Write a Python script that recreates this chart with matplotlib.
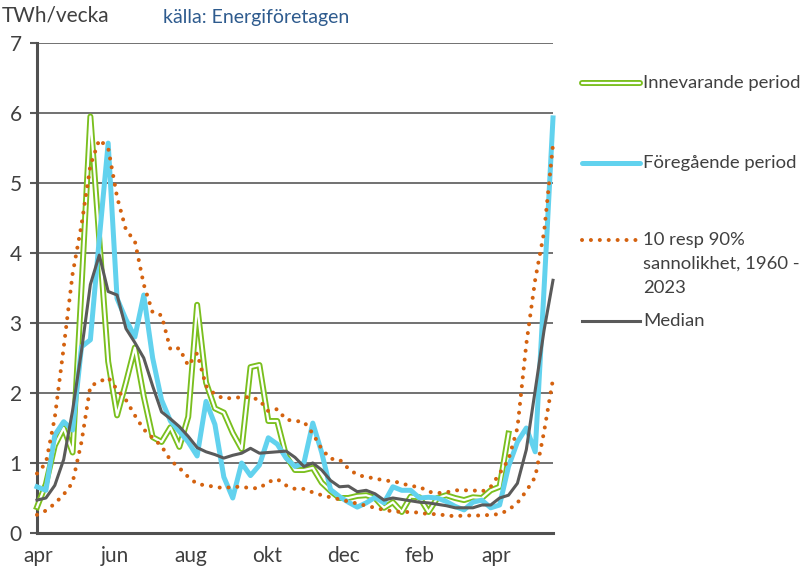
import numpy as np
import matplotlib.pyplot as plt
from matplotlib.lines import Line2D

plt.rcParams['font.family'] = ['Lato', 'DejaVu Sans']

# veckovärden, TWh/vecka, från v.14 (april) till maj nästa år
month_labels = ['apr', 'jun', 'aug', 'okt', 'dec', 'feb', 'apr']

innevarande = [0.37, 0.7, 1.25, 1.5, 1.15, 3.5, 5.95, 4.2, 2.45, 1.68,
               2.15, 2.65, 1.95, 1.37, 1.3, 1.51, 1.23, 1.66, 3.26, 2.15,
               1.78, 1.72, 1.43, 1.2, 2.37, 2.4, 1.6, 1.6, 1.1, 0.9,
               0.9, 0.93, 0.72, 0.6, 0.5, 0.5, 0.53, 0.54, 0.5, 0.36,
               0.44, 0.3, 0.52, 0.51, 0.3, 0.5, 0.54, 0.5, 0.47, 0.51,
               0.5, 0.61, 0.66, 1.42]

foregaende = [0.66, 0.61, 1.4, 1.59, 1.47, 2.66, 2.76, 4.2, 5.57, 3.35,
              3.05, 2.8, 3.4, 2.5, 1.9, 1.6, 1.45, 1.3, 1.1, 1.88,
              1.55, 0.8, 0.5, 1.0, 0.82, 0.97, 1.36, 1.27, 1.07, 0.95,
              1.0, 1.57, 1.15, 0.62, 0.52, 0.44, 0.37, 0.43, 0.51, 0.43,
              0.66, 0.61, 0.61, 0.5, 0.51, 0.5, 0.45, 0.38, 0.33, 0.44,
              0.47, 0.36, 0.4, 0.95, 1.3, 1.5, 1.16, 3.5, 5.93]

p90 = [0.85, 1.0, 1.65, 2.65, 3.7, 4.4, 5.25, 5.62, 5.5, 4.8,
       4.33, 4.17, 3.55, 3.15, 3.11, 2.62, 2.64, 2.39, 2.57, 2.1,
       1.98, 1.92, 1.93, 1.94, 1.94, 1.9, 1.74, 1.77, 1.62, 1.6,
       1.59, 1.42, 1.2, 1.06, 1.05, 0.92, 0.83, 0.8, 0.78, 0.75,
       0.74, 0.71, 0.67, 0.66, 0.59, 0.57, 0.58, 0.61, 0.61, 0.61,
       0.59, 0.66, 0.85, 1.05, 1.5, 2.7, 3.62, 4.3, 5.55]

p10 = [0.26, 0.32, 0.42, 0.55, 0.72, 1.3, 2.1, 2.16, 2.22, 2.05,
       1.9, 1.68, 1.48, 1.36, 1.24, 1.04, 0.93, 0.8, 0.7, 0.68,
       0.66, 0.64, 0.66, 0.66, 0.64, 0.64, 0.73, 0.77, 0.68, 0.63,
       0.63, 0.58, 0.54, 0.51, 0.48, 0.45, 0.42, 0.39, 0.36, 0.33,
       0.31, 0.3, 0.3, 0.29, 0.27, 0.27, 0.25, 0.24, 0.25, 0.25,
       0.25, 0.26, 0.27, 0.33, 0.43, 0.6, 0.8, 1.45, 2.2]

median = [0.47, 0.5, 0.68, 1.05, 1.75, 2.6, 3.55, 3.97, 3.45, 3.4,
          2.92, 2.72, 2.5, 2.1, 1.73, 1.63, 1.52, 1.38, 1.22, 1.16,
          1.12, 1.07, 1.11, 1.14, 1.21, 1.14, 1.15, 1.16, 1.17, 1.08,
          0.95, 1.0, 0.9, 0.75, 0.66, 0.67, 0.59, 0.61, 0.56, 0.47,
          0.5, 0.48, 0.46, 0.44, 0.43, 0.41, 0.39, 0.36, 0.36, 0.36,
          0.4, 0.4, 0.5, 0.54, 0.71, 1.19, 2.04, 2.9, 3.61]

weeks = np.arange(len(median))

txt = '#404040'
gridc = '#595959'
green = '#7ABF1E'
blue = '#62D2EE'
orange = '#D4620F'
grey = '#5A5A5A'
dots = (0, (0.01, 2.2))

W, H = 812, 572
fig = plt.figure(figsize=(W / 100, H / 100), dpi=100)
ax = fig.add_axes([37 / W, 1 - 533 / H, (553 - 37) / W, (533 - 43) / H])

x_cur = weeks[:len(innevarande)]
ax.plot(x_cur, innevarande, color=green, lw=4.3, zorder=3, clip_on=False)
ax.plot(x_cur, innevarande, color='white', lw=1.6, zorder=3.1, clip_on=False)
ax.plot(weeks, foregaende, color=blue, lw=3.6, zorder=4, clip_on=False)
for s in (p10, p90):
    ax.plot(weeks, s, color=orange, lw=2.9, linestyle=dots,
            dash_capstyle='round', zorder=5, clip_on=False)
ax.plot(weeks, median, color=grey, lw=2.2, zorder=6, clip_on=False)

ax.set_xlim(0, len(weeks) - 1)
ax.set_ylim(0, 7)
ax.set_yticks(range(8))
ax.set_xticks(0.17 + 8.57 * np.arange(len(month_labels)))
ax.set_xticklabels(month_labels)
ax.grid(axis='y', color=gridc, lw=1.2)
ax.set_axisbelow(True)
for side in ('top', 'right'):
    ax.spines[side].set_visible(False)
for side in ('left', 'bottom'):
    ax.spines[side].set_color('#505050')
    ax.spines[side].set_linewidth(2.2)
ax.tick_params(axis='y', length=5, width=1.5, color=gridc, pad=6,
               labelsize=15, labelcolor=txt)
ax.tick_params(axis='x', length=0, pad=9, labelsize=15, labelcolor=txt)

fig.text(2 / W, 1 - 15 / H, 'TWh/vecka', fontsize=15, color=txt, va='center')
fig.text(163 / W, 1 - 18 / H, 'källa: Energiföretagen', fontsize=14,
         color='#2E5B8E', va='center')

# legend drawn by hand to follow the original layout
def fy(py):
    return 1 - py / H

x0, x1, xt = 582 / W, 640 / W, 643 / W
leg = [
    ([dict(color=green, lw=4.3, solid_capstyle='round'),
      dict(color='white', lw=1.6, solid_capstyle='round')], 83, 'Innevarande period'),
    ([dict(color=blue, lw=3.6, solid_capstyle='round')], 163, 'Föregående period'),
    ([dict(color=orange, lw=2.9, linestyle=dots, dash_capstyle='round')], 240,
     '10 resp 90%\nsannolikhet, 1960 -\n2023'),
    ([dict(color=grey, lw=2.2)], 321, 'Median'),
]
for styles, py, label in leg:
    for st in styles:
        fig.add_artist(Line2D([x0, x1], [fy(py), fy(py)], transform=fig.transFigure, **st))
    if '\n' in label:
        fig.text(xt, fy(py - 8), label, fontsize=13.3, color=txt, va='top',
                 linespacing=1.6)
    else:
        fig.text(xt, fy(py), label, fontsize=13.3, color=txt, va='center')

fig.savefig('out.png', dpi=100)
